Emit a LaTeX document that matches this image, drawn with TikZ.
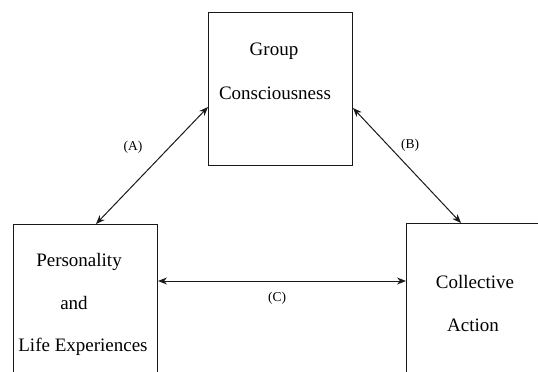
\documentclass[tikz,border=0pt]{standalone}
\usepackage{fontspec}
\setmainfont{Liberation Serif}
\usetikzlibrary{arrows.meta}
\begin{document}
\begin{tikzpicture}[x=1pt,y=1pt,
  box/.style={draw=black!90, line width=1pt, inner sep=0pt, anchor=north west},
  lbl/.style={font=\fontsize{19}{21}\selectfont, inner sep=0pt},
  tag/.style={font=\fontsize{13.5}{15}\selectfont, inner sep=0pt},
  conn/.style={line width=1pt, draw=black!90, {Stealth[length=9pt,width=7pt]}-{Stealth[length=9pt,width=7pt]}}]
\useasboundingbox (0,0) rectangle (538,-372);
\clip (0,0) rectangle (538,-372);
\node[box, minimum width=144pt, minimum height=153pt] (gc) at (208,-12) {};
\node[box, minimum width=144pt, minimum height=170pt] (pl) at (13,-224) {};
\node[box, minimum width=160pt, minimum height=170pt] (ca) at (406,-223) {};
\node[lbl] (t1) at (274,-51) {Group};
\node[lbl] (t2) at (275,-93) {Consciousness};
\node[lbl] (t3) at (79,-262) {Personality};
\node[lbl] (t4) at (74,-303) {and};
\node[lbl] (t5) at (83,-347) {Life Experiences};
\node[lbl] (t6) at (475,-282) {Collective};
\node[lbl] (t7) at (473,-325) {Action};
\draw[conn] ([xshift=83pt]pl.north west) -- ([yshift=-95pt]gc.north west);
\draw[conn] ([yshift=-96pt]gc.north east) -- ([xshift=55pt]ca.north west);
\draw[conn] ([yshift=-57pt]pl.north east) -- ([yshift=-58pt]ca.north west);
\node[tag] (la) at (133,-147) {(A)};
\node[tag] (lb) at (410,-145) {(B)};
\node[tag] (lc) at (277,-298) {(C)};
\end{tikzpicture}
\end{document}
